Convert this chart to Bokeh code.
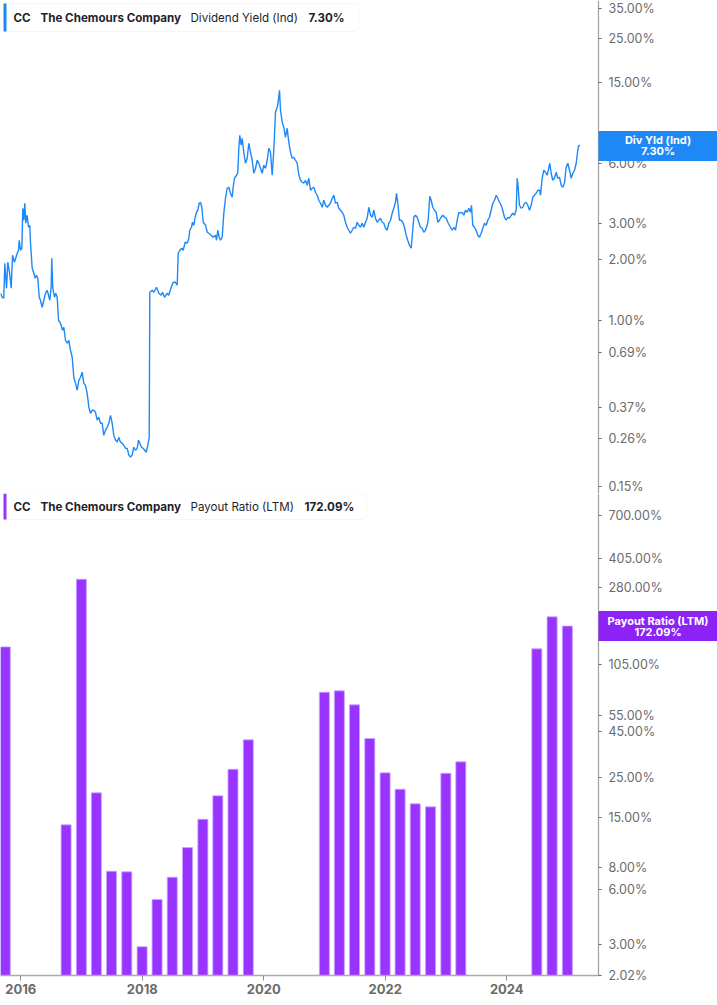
import pandas as pd
from bokeh.plotting import figure
from bokeh.models import (Range1d, FixedTicker, PrintfTickFormatter, Label, BoxAnnotation,
                          LogAxis, LinearAxis)
from bokeh.layouts import column
from bokeh.embed import file_html
from bokeh.resources import INLINE

# ---------------- data ----------------
company = "The Chemours Company"
ticker = "CC"

# Dividend Yield (Ind), % — decimal-year dates
dy_year = [
 2015.666,2015.694,2015.720,2015.737,2015.765,2015.786,2015.814,2015.842,2015.864,2015.896,
 2015.941,2015.962,2015.974,2015.995,2016.017,2016.033,2016.050,2016.066,2016.082,2016.105,
 2016.127,2016.148,2016.160,2016.188,2016.214,2016.237,2016.259,2016.280,2016.303,2016.324,
 2016.352,2016.379,2016.407,2016.435,2016.478,2016.500,2016.510,2016.527,2016.555,2016.576,
 2016.599,2016.621,2016.654,2016.687,2016.708,2016.736,2016.764,2016.790,2016.818,2016.846,
 2016.873,2016.901,2016.929,2016.955,2016.983,2017.011,2017.037,2017.065,2017.093,2017.120,
 2017.148,2017.175,2017.202,2017.230,2017.258,2017.284,2017.312,2017.340,2017.366,2017.394,
 2017.422,2017.449,2017.477,2017.504,2017.531,2017.559,2017.587,2017.613,2017.641,2017.669,
 2017.696,2017.724,2017.752,2017.778,2017.806,2017.834,2017.860,2017.888,2017.916,2017.938,
 2017.959,2017.987,2018.015,2018.041,2018.064,2018.091,2018.114,2018.124,2018.163,2018.190,
 2018.234,2018.272,2018.311,2018.333,2018.366,2018.410,2018.436,2018.476,2018.509,2018.542,
 2018.575,2018.591,2018.618,2018.650,2018.673,2018.706,2018.739,2018.766,2018.782,2018.810,
 2018.827,2018.848,2018.871,2018.892,2018.914,2018.937,2018.958,2018.980,2019.003,2019.041,
 2019.069,2019.095,2019.134,2019.167,2019.205,2019.222,2019.243,2019.266,2019.287,2019.315,
 2019.342,2019.370,2019.398,2019.424,2019.452,2019.480,2019.496,2019.518,2019.551,2019.572,
 2019.589,2019.605,2019.628,2019.645,2019.671,2019.699,2019.727,2019.754,2019.782,2019.809,
 2019.836,2019.864,2019.892,2019.918,2019.946,2019.974,2020.000,2020.028,2020.056,2020.083,
 2020.110,2020.138,2020.165,2020.193,2020.221,2020.237,2020.259,2020.275,2020.303,2020.329,
 2020.357,2020.385,2020.412,2020.440,2020.468,2020.494,2020.522,2020.550,2020.577,2020.605,
 2020.632,2020.659,2020.687,2020.715,2020.741,2020.769,2020.797,2020.823,2020.851,2020.879,
 2020.906,2020.934,2020.961,2020.988,2021.016,2021.044,2021.070,2021.098,2021.126,2021.153,
 2021.180,2021.208,2021.235,2021.263,2021.291,2021.317,2021.345,2021.373,2021.399,2021.427,
 2021.455,2021.482,2021.510,2021.538,2021.564,2021.592,2021.620,2021.646,2021.674,2021.702,
 2021.729,2021.757,2021.784,2021.811,2021.839,2021.867,2021.893,2021.921,2021.949,2021.976,
 2022.004,2022.031,2022.058,2022.086,2022.114,2022.140,2022.168,2022.185,2022.206,2022.234,
 2022.262,2022.288,2022.316,2022.344,2022.370,2022.398,2022.426,2022.448,2022.469,2022.497,
 2022.525,2022.552,2022.580,2022.607,2022.634,2022.662,2022.690,2022.706,2022.733,2022.756,
 2022.782,2022.810,2022.838,2022.864,2022.892,2022.920,2022.947,2022.975,2023.003,2023.029,
 2023.073,2023.101,2023.128,2023.156,2023.184,2023.210,2023.238,2023.266,2023.292,2023.320,
 2023.348,2023.375,2023.402,2023.419,2023.440,2023.468,2023.496,2023.523,2023.551,2023.579,
 2023.605,2023.633,2023.661,2023.687,2023.715,2023.743,2023.770,2023.798,2023.826,2023.852,
 2023.880,2023.908,2023.934,2023.962,2023.990,2024.017,2024.045,2024.073,2024.099,2024.127,
 2024.155,2024.172,2024.188,2024.209,2024.237,2024.264,2024.292,2024.320,2024.346,2024.374,
 2024.402,2024.428,2024.456,2024.484,2024.511,2024.539,2024.555,2024.583,2024.609,2024.637,
 2024.665,2024.691,2024.708,2024.731,2024.757,2024.785,2024.814,2024.840,2024.868,2024.896,
 2024.922,2024.950,2024.978,2025.005,2025.033,2025.061,2025.087,2025.115,2025.143,2025.169,
 2025.186,2025.202,
]
dy_pct = [
 1.360,1.300,1.285,1.916,1.440,1.938,1.729,1.440,2.099,1.938,
 2.147,2.222,2.490,2.222,2.273,3.587,3.128,3.797,3.023,3.312,
 2.888,2.954,2.407,1.809,1.709,1.614,1.671,1.614,1.300,1.256,
 1.160,1.256,1.360,1.408,1.256,1.457,2.028,1.440,1.300,1.360,
 1.300,1.000,0.966,0.892,0.923,0.796,0.769,0.796,0.710,0.656,
 0.522,0.487,0.450,0.504,0.522,0.553,0.487,0.476,0.434,0.371,
 0.346,0.358,0.358,0.350,0.320,0.331,0.309,0.309,0.269,0.285,
 0.295,0.309,0.338,0.309,0.269,0.255,0.249,0.263,0.249,0.246,
 0.240,0.232,0.232,0.215,0.210,0.215,0.235,0.227,0.232,0.255,
 0.246,0.235,0.232,0.227,0.222,0.240,0.263,1.376,1.408,1.376,
 1.457,1.360,1.330,1.376,1.300,1.360,1.330,1.457,1.543,1.543,
 1.491,2.147,2.222,2.273,2.222,2.434,2.407,2.547,2.791,2.888,
 3.058,2.954,3.237,3.426,3.506,3.797,3.842,3.628,3.058,2.954,
 2.729,2.697,2.636,2.577,2.636,2.490,2.791,2.577,2.490,2.577,
 3.388,4.021,4.506,4.558,4.256,4.067,4.558,5.050,5.226,5.347,
 7.111,8.247,7.357,7.969,6.794,5.993,6.344,7.526,6.794,6.202,
 5.347,5.661,6.202,5.993,5.661,5.347,5.857,5.661,6.202,7.111,
 6.794,5.226,6.950,10.72,11.35,12.02,13.78,10.97,9.565,9.034,
 8.061,8.933,7.613,6.794,6.344,6.417,6.202,5.993,5.226,4.937,
 4.826,4.771,4.937,4.663,5.050,4.405,4.506,4.558,4.305,4.160,
 3.930,3.797,3.628,3.930,3.711,3.628,3.711,3.797,4.021,4.160,
 3.797,3.842,3.587,3.506,3.426,3.312,3.058,2.888,2.791,2.697,
 2.791,2.888,2.855,3.058,2.954,2.888,3.023,2.888,3.058,3.201,
 3.628,3.312,3.237,3.506,3.201,3.058,3.128,3.201,3.058,3.023,
 2.855,2.791,3.023,3.128,3.388,3.587,3.842,4.256,3.797,3.128,
 3.128,3.058,2.888,2.636,2.490,2.352,2.273,2.697,3.237,3.312,
 3.237,3.058,2.888,2.855,2.729,2.791,2.954,3.128,4.114,3.930,
 3.628,3.506,3.426,3.058,3.128,3.237,3.312,3.237,3.201,3.058,
 2.888,2.791,2.888,2.791,3.128,3.426,3.388,3.426,3.312,3.506,
 3.426,3.587,3.426,3.711,2.954,2.888,2.791,2.636,2.577,2.697,
 2.855,3.023,2.954,3.128,3.237,3.506,3.797,3.930,4.160,4.021,
 3.842,3.711,3.506,3.237,3.128,3.237,3.201,3.312,3.388,3.312,
 3.506,5.050,4.558,3.711,3.587,3.628,3.797,3.842,3.711,3.506,
 3.711,4.067,4.160,4.256,4.405,4.405,4.160,5.050,5.534,5.408,
 5.226,5.661,5.993,5.347,4.937,5.050,5.408,5.050,5.108,4.663,
 4.558,4.771,5.726,5.993,5.534,5.050,5.347,5.534,5.993,6.950,
 7.357,7.30,
]
dy_last = 7.30

# Payout Ratio (LTM), % — quarter ends
payout_quarter = [
 "2015-09-30","2016-09-30","2016-12-31","2017-03-31","2017-06-30","2017-09-30","2017-12-31",
 "2018-03-31","2018-06-30","2018-09-30","2018-12-31","2019-03-31","2019-06-30","2019-09-30",
 "2020-12-31","2021-03-31","2021-06-30","2021-09-30","2021-12-31","2022-03-31","2022-06-30",
 "2022-09-30","2022-12-31","2023-03-31","2024-06-30","2024-09-30","2024-12-31",
]
payout_ratio = [
 132.1, 13.73, 312.2, 20.63, 7.61, 7.55, 2.91,
 5.31, 7.05, 10.28, 14.74, 19.86, 27.85, 40.48,
 74.19, 75.5, 63.18, 41.16, 26.6, 21.6, 17.93,
 17.26, 26.47, 30.6, 128.8, 193.6, 172.09,
]
payout_last = 172.09

div_ticks = [0.15, 0.26, 0.37, 0.69, 1.0, 2.0, 3.0, 6.0, 8.0, 15.0, 25.0, 35.0]
payout_ticks = [2.02, 3.0, 6.0, 8.0, 15.0, 25.0, 45.0, 55.0, 105.0, 150.0, 280.0, 405.0, 700.0]
year_ticks = [2016, 2018, 2020, 2022, 2024]
year_labels = {y: str(y) for y in year_ticks}

# ---------------- helpers ----------------
def to_decimal_year(s):
    ts = pd.Timestamp(s)
    n = 366 if ts.is_leap_year else 365
    return ts.year + (ts.dayofyear - 1) / n

bar_x = [to_decimal_year(q) for q in payout_quarter]

BLUE = "#1e88f7"
PURPLE = "#9933ff"
PURPLE_BOX = "#8c22f6"
FONT = "Inter"
W = 717
AXIS_PX = 598                     # where the value axis sits
RIGHT = W - AXIS_PX
X0, X1 = 2015.666, 2025.510       # data span shown left of the value axis
PX_PER_YEAR = AXIS_PX / (X1 - X0)
X_END = X0 + W / PX_PER_YEAR
xr = Range1d(X0, X_END)


def right_axis(p, ticks, bounds="auto"):
    ax = LogAxis(fixed_location=X1, bounds=bounds)
    ax.ticker = FixedTicker(ticks=ticks)
    ax.formatter = PrintfTickFormatter(format="%.2f%%")
    ax.axis_line_color = "#9e9e9e"
    ax.axis_line_width = 1.2
    ax.major_tick_line_color = "#666666"
    ax.major_tick_in = 0
    ax.major_tick_out = 3
    ax.minor_tick_line_color = None
    ax.major_label_text_font = FONT
    ax.major_label_text_font_size = "12.5px"
    ax.major_label_text_color = "#6b6b6b"
    ax.major_label_standoff = 7
    p.add_layout(ax, "right")


def legend(p, frame_h, metric, last_txt, color, right_edge, metric_x, last_x, top_gap, box_h):
    top = frame_h - top_gap
    bottom = top - box_h
    mid = (top + bottom) / 2
    p.add_layout(BoxAnnotation(left=3, right=right_edge, top=top, bottom=bottom,
                               left_units="screen", right_units="screen", top_units="screen",
                               bottom_units="screen", fill_color="white", fill_alpha=1.0,
                               line_color="#e2e2e2", line_width=1, border_radius=4))
    p.add_layout(BoxAnnotation(left=3, right=6, top=top, bottom=bottom,
                               left_units="screen", right_units="screen", top_units="screen",
                               bottom_units="screen", fill_color=color, fill_alpha=1.0,
                               line_color=None))
    items = [(13, ticker, "bold"), (40, company, "bold"), (metric_x, metric, "normal"), (last_x, last_txt, "bold")]
    for x, t, st in items:
        p.add_layout(Label(x=x, y=mid, x_units="screen", y_units="screen", text=t,
                           text_font=FONT, text_font_size="11.6px", text_font_style=st,
                           text_color="#1f1f2b", text_align="left", text_baseline="middle"))


def value_box(p, yval, title, color, px_per_dec):
    # box spans the whole axis margin, centred on the last value
    f = lambda px: yval * 10 ** (px / px_per_dec)
    xc = X1 + (RIGHT / 2) / PX_PER_YEAR
    p.add_layout(BoxAnnotation(left=X1, right=X_END, top=f(15), bottom=f(-15),
                               fill_color=color, fill_alpha=1.0, line_color=None))
    p.add_layout(Label(x=xc, y=f(5.5), text=title, text_align="center", text_baseline="middle",
                       text_color="white", text_font=FONT, text_font_style="bold",
                       text_font_size="11px"))
    p.add_layout(Label(x=xc, y=f(-5.5), text=f"{yval:.2f}%", text_align="center",
                       text_baseline="middle", text_color="white", text_font=FONT,
                       text_font_style="bold", text_font_size="11px"))


# ---------------- top panel: dividend yield ----------------
H1 = 493
top_px_dec = 201.9
y1_hi = 35.0 * 10 ** (8 / top_px_dec)
y1_lo = y1_hi / 10 ** (H1 / top_px_dec)
p1 = figure(width=W, height=H1, x_range=xr, y_range=Range1d(y1_lo, y1_hi), y_axis_type="log",
            y_axis_location=None, x_axis_location=None, output_backend="svg",
            toolbar_location=None, min_border_left=0, min_border_right=0,
            min_border_top=0, min_border_bottom=0)
p1.outline_line_color = None
p1.grid.visible = False
right_axis(p1, div_ticks)
p1.line(x=dy_year, y=dy_pct, line_color=BLUE, line_width=1.4)
legend(p1, H1, "Dividend Yield (Ind)", f"{dy_last:.2f}%", BLUE, 358, 190, 308, 3, 28)
value_box(p1, dy_last, "Div Yld (Ind)", BLUE, top_px_dec)

# ---------------- bottom panel: payout ratio ----------------
H2 = 1005 - H1
BASE_PX = 975 - H1                # x-axis position inside the lower panel
bot_px_dec = 181.0
y2_base = 2.02
y2_hi = y2_base * 10 ** (BASE_PX / bot_px_dec)
y2_lo = y2_base / 10 ** ((H2 - BASE_PX) / bot_px_dec)
p2 = figure(width=W, height=H2, x_range=xr, y_range=Range1d(y2_lo, y2_hi), y_axis_type="log",
            y_axis_location=None, x_axis_location=None, output_backend="svg",
            toolbar_location=None, min_border_left=0, min_border_right=0,
            min_border_top=0, min_border_bottom=0)
p2.outline_line_color = None
p2.grid.visible = False
right_axis(p2, payout_ticks, bounds=(y2_base, y2_hi))

xa = LinearAxis(fixed_location=y2_base, bounds=(X0, X1))
xa.ticker = FixedTicker(ticks=year_ticks)
xa.major_label_overrides = year_labels
xa.axis_line_color = "#ababab"
xa.axis_line_width = 1.5
xa.major_tick_line_color = "#8a8a8a"
xa.major_tick_in = 0
xa.major_tick_out = 5
xa.minor_tick_line_color = None
xa.major_label_text_font = FONT
xa.major_label_text_font_size = "13px"
xa.major_label_text_font_style = "bold"
xa.major_label_text_color = "#6b6b6b"
xa.major_label_standoff = 3
p2.add_layout(xa, "below")

p2.vbar(x=bar_x, top=payout_ratio, bottom=y2_base, width=0.165, fill_color=PURPLE,
        line_color="#c9a3ff", line_width=0.8)
legend(p2, H2, "Payout Ratio (LTM)", f"{payout_last:.2f}%", PURPLE, 366, 190, 304, 0, 26)
value_box(p2, payout_last, "Payout Ratio (LTM)", PURPLE_BOX, bot_px_dec)

layout = column(p1, p2)
open("out.html", "w").write(file_html(layout, INLINE))
